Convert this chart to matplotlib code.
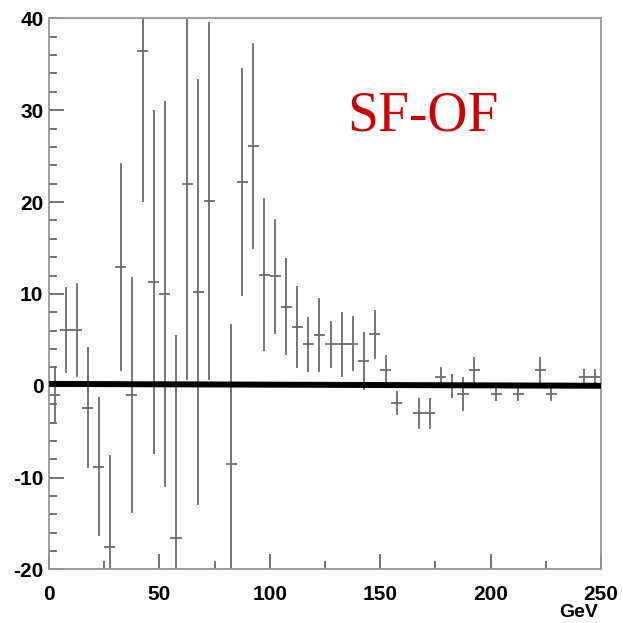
import matplotlib
matplotlib.use("Agg")
import matplotlib.pyplot as plt
from matplotlib.ticker import MultipleLocator

plt.rcParams["axes.unicode_minus"] = False

# SF-OF difference per 5 GeV bin (empty bins left out)
bin_centers = [2.5, 7.5, 12.5, 17.5, 22.5, 27.5, 32.5, 37.5, 42.5, 47.5,
               52.5, 57.5, 62.5, 67.5, 72.5, 82.5, 87.5, 92.5, 97.5, 102.5,
               107.5, 112.5, 117.5, 122.5, 127.5, 132.5, 137.5, 142.5, 147.5, 152.5,
               157.5, 167.5, 172.5, 177.5, 182.5, 187.5, 192.5, 202.5, 212.5, 222.5,
               227.5, 242.5, 247.5]
values = [-1.0, 6.1, 6.1, -2.4, -8.8, -17.5, 12.9, -1.0, 36.4, 11.3,
          10.0, -16.6, 22.0, 10.2, 20.1, -8.5, 22.2, 26.1, 12.1, 11.9,
          8.6, 6.4, 4.5, 5.5, 4.5, 4.5, 4.6, 2.7, 5.6, 1.7,
          -1.9, -3.0, -3.0, 1.0, 0.0, -0.9, 1.75, -0.9, -0.9, 1.75,
          -0.9, 1.0, 1.0]
errors = [3.0, 4.7, 5.1, 6.6, 7.6, 10.0, 11.3, 12.8, 16.4, 18.7,
          21.0, 22.1, 21.4, 23.2, 19.5, 15.2, 12.4, 11.2, 8.3, 6.3,
          5.3, 4.5, 3.0, 4.0, 2.6, 3.5, 3.0, 3.2, 2.7, 1.7,
          1.3, 1.7, 1.7, 1.0, 1.3, 1.8, 1.4, 0.8, 0.8, 1.4,
          0.8, 0.8, 0.8]
BIN_WIDTH = 5.0

# fitted line drawn over the histogram
fit_x = [0, 250]
fit_y = [0.2, 0.0]

fig = plt.figure(figsize=(6.23, 6.23), dpi=100)
ax = fig.add_axes([0.0787, 0.0859, 0.8860, 0.8847])

ax.errorbar(bin_centers, values, xerr=BIN_WIDTH / 2, yerr=errors, fmt="none",
            ecolor="0.42", elinewidth=1.3, capsize=0, zorder=2)
ax.plot(fit_x, fit_y, color="black", linewidth=4.3, solid_capstyle="butt", zorder=3)

ax.set_xlim(0, 250)
ax.set_ylim(-20, 40)

ax.xaxis.set_major_locator(MultipleLocator(50))
ax.xaxis.set_minor_locator(MultipleLocator(25))
ax.yaxis.set_major_locator(MultipleLocator(10))
ax.yaxis.set_minor_locator(MultipleLocator(2))

for side in ax.spines.values():
    side.set_color("0.6")
    side.set_linewidth(1.3)

ax.tick_params(which="both", direction="in", color="0.35", top=False, right=False)
ax.tick_params(which="major", length=11, width=1.2)
ax.tick_params(which="minor", length=6, width=1.2)
ax.tick_params(axis="y", which="major", pad=4)
ax.tick_params(axis="x", which="major", pad=11)

for lab in ax.get_xticklabels() + ax.get_yticklabels():
    lab.set_fontfamily("Liberation Sans")
    lab.set_fontweight("bold")
    lab.set_fontsize(15)

ax.text(0.995, -0.078, "GeV", transform=ax.transAxes, ha="right", va="center",
        fontfamily="Liberation Sans", fontweight="bold", fontsize=14)

ax.text(135, 27.8, "SF-OF", ha="left", va="baseline", color="#cc0000",
        fontfamily="Liberation Serif", fontsize=40)

fig.savefig("out.png", dpi=100)
